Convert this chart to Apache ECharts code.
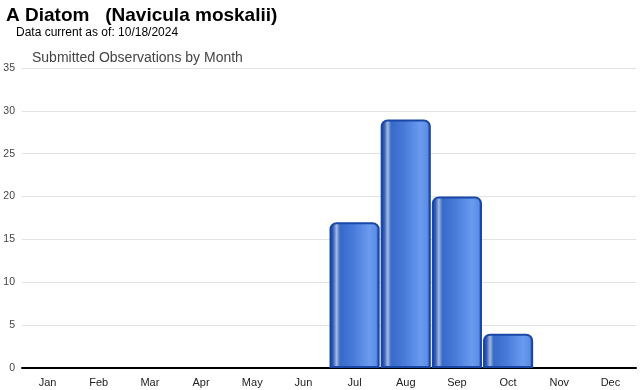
<!DOCTYPE html>
<html><head><meta charset="utf-8">
<script src="https://cdn.jsdelivr.net/npm/echarts@6/dist/echarts.min.js"></script>
<style>html,body{margin:0;padding:0;background:#fff}#c{width:640px;height:390px}</style>
</head><body><div id="c"></div>
<script>
const months = ['Jan','Feb','Mar','Apr','May','Jun','Jul','Aug','Sep','Oct','Nov','Dec'];
const observations = [0,0,0,0,0,0,17,29,20,4,0,0];
const yTicks = {min:0, max:35, interval:5};
const titleText = 'A Diatom   (Navicula moskalii)';
const subtitleText = 'Data current as of: 10/18/2024';
const chartTitle = 'Submitted Observations by Month';

const chart = echarts.init(document.getElementById('c'), null, {renderer:'canvas'});
const grad = new echarts.graphic.LinearGradient(0,0,1,0,[
  {offset:0, color:'#16429e'},
  {offset:0.07, color:'#2f5db8'},
  {offset:0.14, color:'#a6b9de'},
  {offset:0.21, color:'#386ac8'},
  {offset:0.45, color:'#4679d8'},
  {offset:0.8, color:'#6a9bef'},
  {offset:0.93, color:'#5b8ee6'},
  {offset:1, color:'#16429e'}
]);
chart.setOption({
  animation:false,
  title:[
    {text:titleText, left:6, top:6, padding:0, textStyle:{fontFamily:'Liberation Sans, Arial', fontWeight:'bold', fontSize:19, color:'#000'}},
    {text:subtitleText, left:16, top:27, padding:0, textStyle:{fontFamily:'Liberation Sans, Arial', fontWeight:'normal', fontSize:12, color:'#000'}},
    {text:chartTitle, left:32, top:51, padding:0, textStyle:{fontFamily:'Liberation Sans, Arial', fontWeight:'normal', fontSize:14, color:'#444'}}
  ],
  grid:{left:22, right:4, top:68, bottom:22},
  xAxis:{type:'category', data:months,
    axisLine:{lineStyle:{color:'#000', width:2}},
    axisTick:{alignWithLabel:true, length:3, lineStyle:{color:'#bbb'}},
    axisLabel:{fontFamily:'Liberation Sans, Arial', fontSize:11, color:'#222', margin:9}},
  yAxis:{type:'value', min:yTicks.min, max:yTicks.max, interval:yTicks.interval,
    axisLine:{show:false}, axisTick:{show:false},
    splitLine:{lineStyle:{color:'#e3e3e3', width:1}},
    axisLabel:{fontFamily:'Liberation Sans, Arial', fontSize:10.5, color:'#444', margin:7}},
  series:[{type:'bar', data:observations.map(v => v === 0 ? '-' : v), barCategoryGap:'2%',
    itemStyle:{color:grad, borderColor:'#1a47a6', borderWidth:2, borderRadius:[6,6,0,0]}}]
});
</script></body></html>
